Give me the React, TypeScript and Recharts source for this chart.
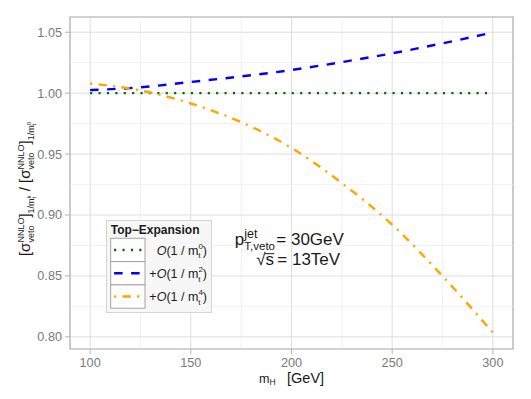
import React from 'react';
import {
  LineChart,
  Line,
  XAxis,
  YAxis,
  CartesianGrid,
  ReferenceLine,
  ReferenceArea,
  ReferenceDot,
  Legend
} from 'recharts';

// Higgs mass [GeV]
const mH = [100, 125, 150, 175, 200, 225, 250, 275, 300];
// ratio to the 1/mt^0 result, per order of the top-mass expansion
const order0 = [1, 1, 1, 1, 1, 1, 1, 1, 1];
const order2 = [1.0025, 1.0048, 1.0092, 1.0137, 1.019, 1.0255, 1.0327, 1.0409, 1.0498];
const order4 = [1.0079, 1.0022, 0.9915, 0.9762, 0.955, 0.9262, 0.892, 0.8498, 0.8035];

const xTicks = [100, 150, 200, 250, 300];
const xMinor = [125, 175, 225, 275];
const yTicks = [0.8, 0.85, 0.9, 0.95, 1.0, 1.05];
const yMinor = [0.825, 0.875, 0.925, 0.975, 1.025];

const FONT = '"Liberation Sans", Arial, Helvetica, sans-serif';

const data = mH.map((m, i) => ({ mH: m, o0: order0[i], o2: order2[i], o4: order4[i] }));

const series = [
  { key: 'o0', color: '#006400', dash: '2.1 6.3', plus: false, power: '0' },
  { key: 'o2', color: '#0000ff', dash: '8.5 8.5', plus: true, power: '2' },
  { key: 'o4', color: '#ffa500', dash: '2.1 6.3 8.4 6.3', plus: true, power: '4' }
];

// [sigma_veto^NNLO]_{1/m_t^p}
const sigmaGroup = (p: string) => (
  <>
    <tspan>[σ</tspan>
    <tspan fontSize={9} dy={3.5}>veto</tspan>
    <tspan fontSize={9} dx={-17} dy={-9.5}>NNLO</tspan>
    <tspan dy={6}>]</tspan>
    <tspan fontSize={9} dy={4}>1/m</tspan>
    <tspan fontSize={6} dy={2}>t</tspan>
    <tspan fontSize={6} dx={-1.7} dy={-5.5}>{p}</tspan>
  </>
);

const renderYTitle = (props: any) => {
  const vb = props.viewBox;
  const x = vb.x + 30;
  const y = vb.y + vb.height / 2 + 6;
  return (
    <text
      x={x}
      y={y}
      transform={`rotate(-90, ${x}, ${y})`}
      textAnchor="middle"
      fontSize={15}
      fontFamily={FONT}
      fill="#1a1a1a"
      style={{ whiteSpace: 'pre' }}
    >
      {sigmaGroup('k')}
      <tspan dy={-0.5}>{' / '}</tspan>
      {sigmaGroup('0')}
    </text>
  );
};

const renderXTitle = (props: any) => {
  const vb = props.viewBox;
  return (
    <text
      x={vb.x + vb.width / 2}
      y={vb.y + 34}
      textAnchor="middle"
      fontFamily={FONT}
      fill="#1a1a1a"
    >
      <tspan fontSize={12.6}>m</tspan>
      <tspan fontSize={8.5} dy={2}>H</tspan>
      <tspan fontSize={14.5} dx={11.5} dy={-2}>[GeV]</tspan>
    </text>
  );
};

const renderAnnotation = (props: any) => {
  const vb = props.viewBox;
  const cx = vb.x + vb.width / 2;
  const cy = vb.y + vb.height / 2;
  const y1 = cy - 10.5;
  const y2 = cy + 10.3;
  return (
    <g fontFamily={FONT} fill="#1a1a1a">
      <text x={cx - 16.5} y={y1} textAnchor="end" fontSize={17}>
        <tspan>p</tspan>
        <tspan fontSize={12.5} dy={-7}>jet</tspan>
        <tspan fontSize={11.5} dx={-13.2} dy={12}>T,veto</tspan>
      </text>
      <text x={cx - 15.2} y={y1} fontSize={17} style={{ whiteSpace: 'pre' }}>
        {'= 30GeV'}
      </text>
      <text x={cx - 17.5} y={y2} textAnchor="end" fontSize={17}>
        <tspan>√</tspan>
        <tspan>s</tspan>
      </text>
      <line x1={cx - 26.5} x2={cx - 17.2} y1={y2 - 11.8} y2={y2 - 11.8} stroke="#1a1a1a" strokeWidth={1} />
      <text x={cx - 14.2} y={y2} fontSize={17} style={{ whiteSpace: 'pre' }}>
        {'= 13TeV'}
      </text>
    </g>
  );
};

const LegendBox = () => (
  <svg width={106} height={93} style={{ display: 'block' }} fontFamily={FONT}>
    <rect x={0.5} y={0.5} width={105} height={92} fill="#f7f7f7" stroke="#d4d4d4" />
    <text x={4.7} y={14} fontSize={12} fontWeight="bold" fill="#1a1a1a">
      Top−Expansion
    </text>
    {series.map((s, i) => {
      const top = 18.3 + i * 23.3;
      return (
        <g key={s.key}>
          <rect x={4.7} y={top} width={34.3} height={23.3} fill="#ffffff" stroke="#a3a3a3" />
          <line
            x1={8.1}
            x2={35.6}
            y1={top + 11.65}
            y2={top + 11.65}
            stroke={s.color}
            strokeWidth={2.4}
            strokeDasharray={s.dash}
          />
          <text x={101} y={top + 16.5} textAnchor="end" fontSize={12.5} fill="#1a1a1a" style={{ whiteSpace: 'pre' }}>
            <tspan>{s.plus ? '+' : ''}</tspan>
            <tspan fontStyle="italic">O</tspan>
            <tspan>{'(1 / m'}</tspan>
            <tspan fontSize={8} dy={3.5}>t</tspan>
            <tspan fontSize={8} dx={-2.2} dy={-9.8}>{s.power}</tspan>
            <tspan dy={6.3}>)</tspan>
          </text>
        </g>
      );
    })}
  </svg>
);

export default function App() {
  return (
    <div style={{ position: 'absolute', left: 0, top: 0, fontFamily: FONT }}>
      <LineChart
        width={531}
        height={399}
        data={data}
        margin={{ top: 17, right: 18, left: 0, bottom: 0 }}
      >
        <CartesianGrid stroke="#dedede" strokeWidth={1} />
        {xMinor.map(v => (
          <ReferenceLine key={'x' + v} x={v} stroke="#eeeeee" strokeWidth={0.8} />
        ))}
        {yMinor.map(v => (
          <ReferenceLine key={'y' + v} y={v} stroke="#eeeeee" strokeWidth={0.8} />
        ))}
        <XAxis
          dataKey="mH"
          type="number"
          domain={[90, 310]}
          ticks={xTicks}
          height={50}
          axisLine={false}
          tickSize={5}
          tickMargin={4}
          tickLine={{ stroke: '#b3b3b3' }}
          tick={{ fill: '#7a7a7a', fontSize: 12.7 }}
          label={renderXTitle}
        />
        <YAxis
          type="number"
          domain={[0.79, 1.0625]}
          ticks={yTicks}
          width={70}
          axisLine={false}
          tickSize={5}
          tickMargin={3}
          tickLine={{ stroke: '#b3b3b3' }}
          tick={{ fill: '#7a7a7a', fontSize: 12.7 }}
          tickFormatter={(v: number) => v.toFixed(2)}
          label={renderYTitle}
        />
        <ReferenceArea
          x1={90}
          x2={310}
          y1={0.79}
          y2={1.0625}
          fill="none"
          stroke="#b3b3b3"
          strokeWidth={1.2}
        />
        {series.map(s => (
          <Line
            key={s.key}
            dataKey={s.key}
            type="monotone"
            stroke={s.color}
            strokeWidth={2.4}
            strokeDasharray={s.dash}
            dot={false}
            activeDot={false}
            isAnimationActive={false}
          />
        ))}
        <ReferenceDot x={200} y={0.867} r={1} fill="none" stroke="none" label={renderAnnotation} />
        <Legend
          layout="horizontal"
          align="center"
          verticalAlign="middle"
          content={() => <LegendBox />}
          wrapperStyle={{ left: 106, top: 220, width: 106, height: 93 }}
        />
      </LineChart>
    </div>
  );
}
